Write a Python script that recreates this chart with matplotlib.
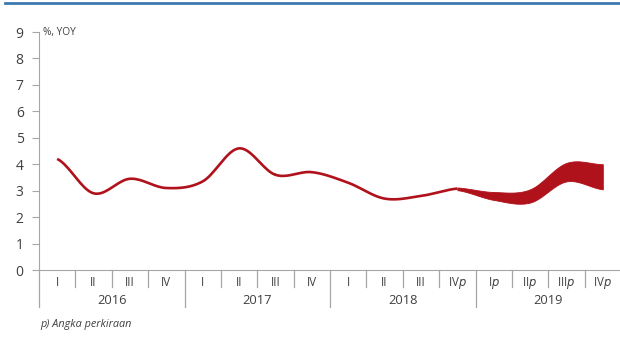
import numpy as np
import matplotlib
matplotlib.use("Agg")
import matplotlib.pyplot as plt
import matplotlib.transforms as mtransforms

plt.rcParams['font.family'] = ['Open Sans', 'DejaVu Sans']

years = ['2016', '2017', '2018', '2019']
quarters = ['I', 'II', 'III', 'IV'] * 4
proj_flags = [False] * 11 + [True] * 5

# realisasi (2016 I .. 2018 IV)
actual = [4.2, 2.9, 3.45, 3.1, 3.35, 4.6, 3.6, 3.7, 3.3, 2.7, 2.8, 3.08]
# rentang proyeksi (2018 IV .. 2019 IV)
band_upper = [3.12, 2.95, 3.05, 4.05, 4.0]
band_lower = [3.02, 2.65, 2.55, 3.35, 3.05]

RED = '#b0121b'
GREY = '#a6a6a6'
TXT = '#404040'


def smooth(x, y, n=20):
    # catmull-rom curve through the points
    x = np.asarray(x, float)
    y = np.asarray(y, float)
    px = np.concatenate([[2 * x[0] - x[1]], x, [2 * x[-1] - x[-2]]])
    py = np.concatenate([[y[0]], y, [y[-1]]])
    xs, ys = [], []
    t = np.linspace(0, 1, n)
    for i in range(1, len(px) - 2):
        for p, out in ((px, xs), (py, ys)):
            p0, p1, p2, p3 = p[i - 1], p[i], p[i + 1], p[i + 2]
            out.append(0.5 * (2 * p1 + (-p0 + p2) * t
                              + (2 * p0 - 5 * p1 + 4 * p2 - p3) * t ** 2
                              + (-p0 + 3 * p1 - 3 * p2 + p3) * t ** 3))
    return np.concatenate(xs), np.concatenate(ys)


fig = plt.figure(figsize=(6.2, 3.4), dpi=100)
ax = fig.add_axes([39 / 620, 70 / 340, 582 / 620, 238 / 340])

xa = np.arange(len(actual)) + 0.5
sx, sy = smooth(xa, actual)
ax.plot(sx, sy, color=RED, lw=1.9, solid_capstyle='butt', zorder=3)

xb = np.arange(len(band_upper)) + 11.5
ux, uy = smooth(xb, band_upper)
lx, ly = smooth(xb, band_lower)
ax.fill_between(ux, uy, ly, color=RED, lw=0.6, edgecolor=RED, zorder=3)

ax.set_xlim(0, 16)
ax.set_ylim(0, 9)
ax.set_yticks(range(10))
ax.set_xticks([])
ax.tick_params(axis='y', length=5, color=GREY, labelsize=10, labelcolor=TXT, pad=6)
for s in ['top', 'right']:
    ax.spines[s].set_visible(False)
ax.spines['left'].set_color(GREY)
ax.spines['bottom'].set_color(GREY)

ax.text(0.12, 9, '%, YOY', fontsize=7.3, color=TXT, va='center', ha='left')

# label sumbu x bertingkat
trans = mtransforms.blended_transform_factory(ax.transData, fig.transFigure)
for i, q in enumerate(quarters):
    lab = q + (r'$\mathit{p}$' if proj_flags[i] else '')
    ax.text(i + 0.5, 1 - 283 / 340, lab, transform=trans, ha='center', va='center',
            fontsize=8.3, color=TXT)
    if i > 0:
        bottom = 1 - 307 / 340 if i % 4 == 0 else 1 - 287 / 340
        ax.plot([i, i], [1 - 270 / 340, bottom], transform=trans, color=GREY,
                lw=0.9, clip_on=False)
ax.plot([0, 0], [1 - 270 / 340, 1 - 307 / 340], transform=trans, color=GREY,
        lw=0.9, clip_on=False)
for j, yr in enumerate(years):
    ax.text(j * 4 + 2, 1 - 300 / 340, yr, transform=trans, ha='center', va='center',
            fontsize=9.3, color=TXT)

fig.text(40 / 620, 1 - 325 / 340, 'p) Angka perkiraan', fontsize=7.8, style='italic',
         color=TXT, va='center')

# garis biru di atas
fig.add_artist(plt.Line2D([5 / 620, 1], [1 - 3 / 340, 1 - 3 / 340],
                          transform=fig.transFigure, color='#3b78b0', lw=2))

fig.savefig('out.png', dpi=100)
